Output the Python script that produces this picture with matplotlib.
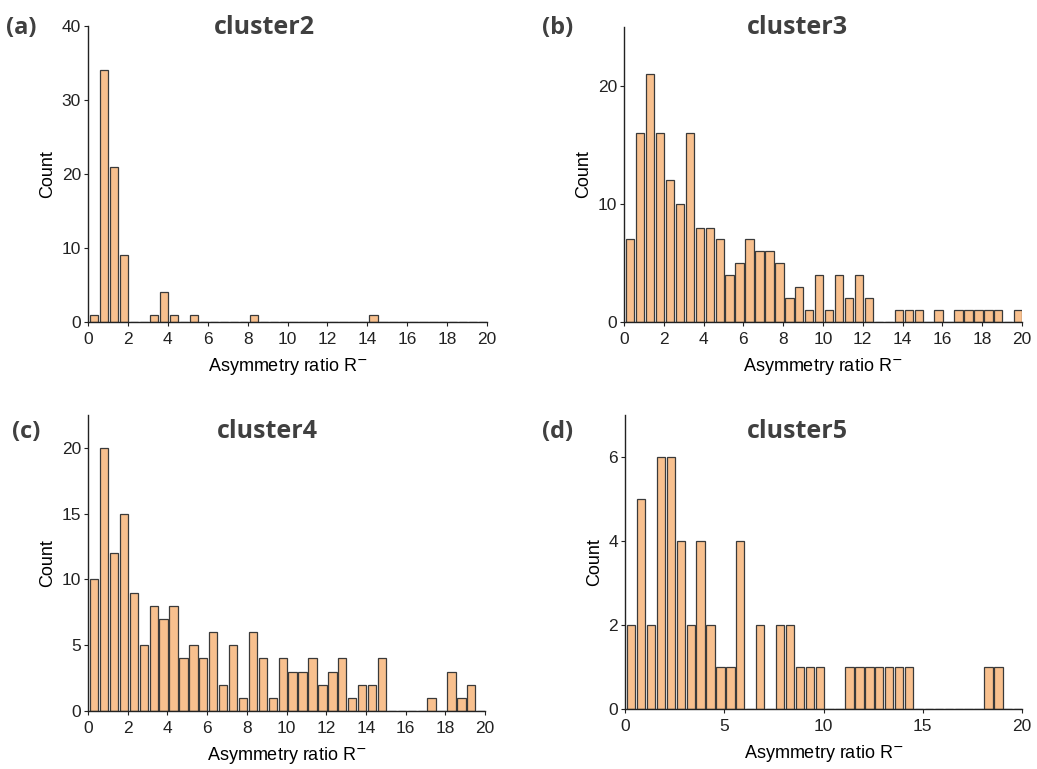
import numpy as np
import matplotlib
matplotlib.use("Agg")
from matplotlib import pyplot as plt

# histogram bins: 0.5 wide from 0 to 20
bin_left = np.arange(0, 20, 0.5)

cluster2 = [1, 34, 21, 9, 0, 0, 1, 4, 1, 0,
            1, 0, 0, 0, 0, 0, 1, 0, 0, 0,
            0, 0, 0, 0, 0, 0, 0, 0, 1, 0,
            0, 0, 0, 0, 0, 0, 0, 0, 0, 0]
cluster3 = [7, 16, 21, 16, 12, 10, 16, 8, 8, 7,
            4, 5, 7, 6, 6, 5, 2, 3, 1, 4,
            1, 4, 2, 4, 2, 0, 0, 1, 1, 1,
            0, 1, 0, 1, 1, 1, 1, 1, 0, 1]
cluster4 = [10, 20, 12, 15, 9, 5, 8, 7, 8, 4,
            5, 4, 6, 2, 5, 1, 6, 4, 1, 4,
            3, 3, 4, 2, 3, 4, 1, 2, 2, 4,
            0, 0, 0, 0, 1, 0, 3, 1, 2, 0]
cluster5 = [2, 5, 2, 6, 6, 4, 2, 4, 2, 1,
            1, 4, 0, 2, 0, 2, 2, 1, 1, 1,
            0, 0, 1, 1, 1, 1, 1, 1, 1, 0,
            0, 0, 0, 0, 0, 0, 1, 1, 0, 0]

panels = [
    # label, title, counts, ylim, yticks, xticks
    ("(a)", "cluster2", cluster2, 40, [0, 10, 20, 30, 40], np.arange(0, 21, 2)),
    ("(b)", "cluster3", cluster3, 25, [0, 10, 20], np.arange(0, 21, 2)),
    ("(c)", "cluster4", cluster4, 22.5, [0, 5, 10, 15, 20], np.arange(0, 21, 2)),
    ("(d)", "cluster5", cluster5, 7, [0, 2, 4, 6], np.arange(0, 21, 5)),
]

W, H = 1037, 769
# axes boxes in pixels: left, top, right, bottom
boxes = [(88, 26, 487, 322), (624, 27, 1022, 322),
         (88, 415, 485, 711), (625, 415, 1022, 709)]
# panel label x, title centre x, baseline y (pixels)
text_pos = [(6, 264, 34), (542, 797, 34), (12, 267, 438), (542, 797, 438)]

plt.rcParams["font.family"] = ["Liberation Sans", "DejaVu Sans"]

fig = plt.figure(figsize=(W / 100, H / 100), dpi=100)
fig.patch.set_facecolor("white")

bar_color = "#F8C08E"
edge_color = "#3a3a3a"
head_color = "#404040"

for (label, title, counts, ytop, yticks, xticks), box, tp in zip(panels, boxes, text_pos):
    l, t, r, b = box
    ax = fig.add_axes([l / W, 1 - b / H, (r - l) / W, (b - t) / H])
    ax.bar(bin_left + 0.1, counts, width=0.42, align="edge",
           color=bar_color, edgecolor=edge_color, linewidth=0.9)
    ax.set_xlim(0, 20)
    ax.set_ylim(0, ytop)
    ax.set_xticks(xticks)
    ax.set_yticks(yticks)
    for side in ["top", "right"]:
        ax.spines[side].set_visible(False)
    for side in ["left", "bottom"]:
        ax.spines[side].set_color("#222222")
        ax.spines[side].set_linewidth(1.0)
    ax.tick_params(axis="both", direction="out", length=3, width=0.8,
                   labelsize=12.5, colors="#222222", pad=2)
    ax.tick_params(axis="x", pad=4)
    ax.set_ylabel("Count", fontsize=13, labelpad=4)
    ax.set_xlabel("Asymmetry ratio R$^{-}$", fontsize=13, labelpad=7)

    lx, tx, by = tp
    fig.text(lx / W, 1 - by / H, label, fontsize=17, fontweight="bold",
             family="Open Sans", color=head_color, ha="left", va="baseline")
    fig.text(tx / W, 1 - by / H, title, fontsize=18, fontweight="bold",
             family="Open Sans", color=head_color, ha="center", va="baseline")

fig.savefig("out.png", dpi=100, facecolor="white")
